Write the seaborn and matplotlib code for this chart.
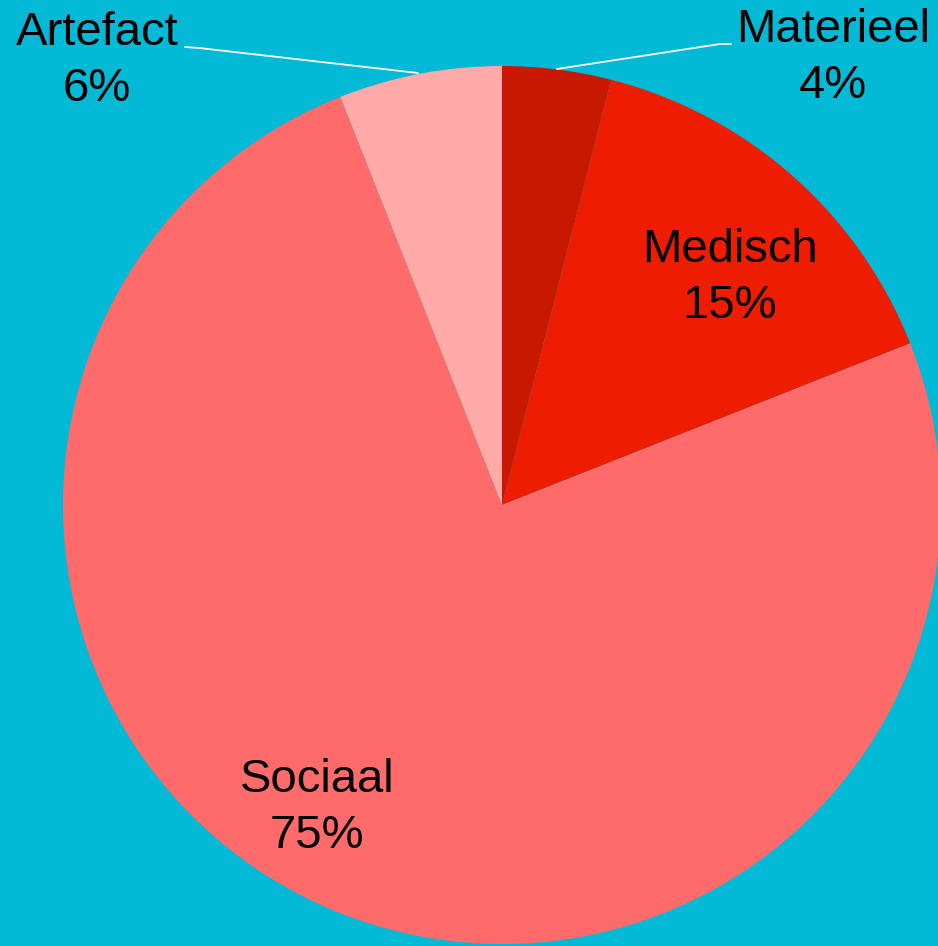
import matplotlib
matplotlib.use("Agg")
import matplotlib.pyplot as plt
import seaborn as sns

categories = ["Materieel", "Medisch", "Sociaal", "Artefact"]
values = [4, 15, 75, 6]
colors = ["#C81800", "#EE1C00", "#FF6B6B", "#FFA9A9"]
bg = "#02B9D6"

sns.set_style("white")
plt.rcParams["font.family"] = ["Liberation Sans", "DejaVu Sans"]
plt.rcParams["text.color"] = "black"

fig = plt.figure(figsize=(9.38, 9.46), dpi=100, facecolor=bg)
ax = fig.add_axes([0, 0, 1, 1])
ax.set_facecolor(bg)

# pie in pixel-like coords (y up)
cx, cy, r = 502, 441, 439
ax.pie(values, colors=colors, startangle=90, counterclock=False,
       center=(cx, cy), radius=r, frame=True,
       wedgeprops=dict(linewidth=0))

ax.set_xlim(0, 938)
ax.set_ylim(0, 946)
ax.set_aspect("equal")
ax.axis("off")

fs = 34
ls = 1.36
labels = [f"{c}\n{v}%" for c, v in zip(categories, values)]
# inside labels
ax.text(730, 946 - 278, labels[1], ha="center", va="center", fontsize=fs, linespacing=ls, color="black")
ax.text(317, 946 - 808, labels[2], ha="center", va="center", fontsize=fs, linespacing=ls, color="black")
# outside labels
ax.text(97, 946 - 61, labels[3], ha="center", va="center", fontsize=fs, linespacing=ls, color="black")
ax.text(833, 946 - 58, labels[0], ha="center", va="center", fontsize=fs, linespacing=ls, color="black")

# leader lines
ax.plot([185, 199, 418], [946 - 47, 946 - 48, 946 - 73], color="white", lw=1.3)
ax.plot([731, 720, 557], [946 - 44, 946 - 44, 946 - 69], color="white", lw=1.3)

fig.savefig("out.png", dpi=100, facecolor=bg)
